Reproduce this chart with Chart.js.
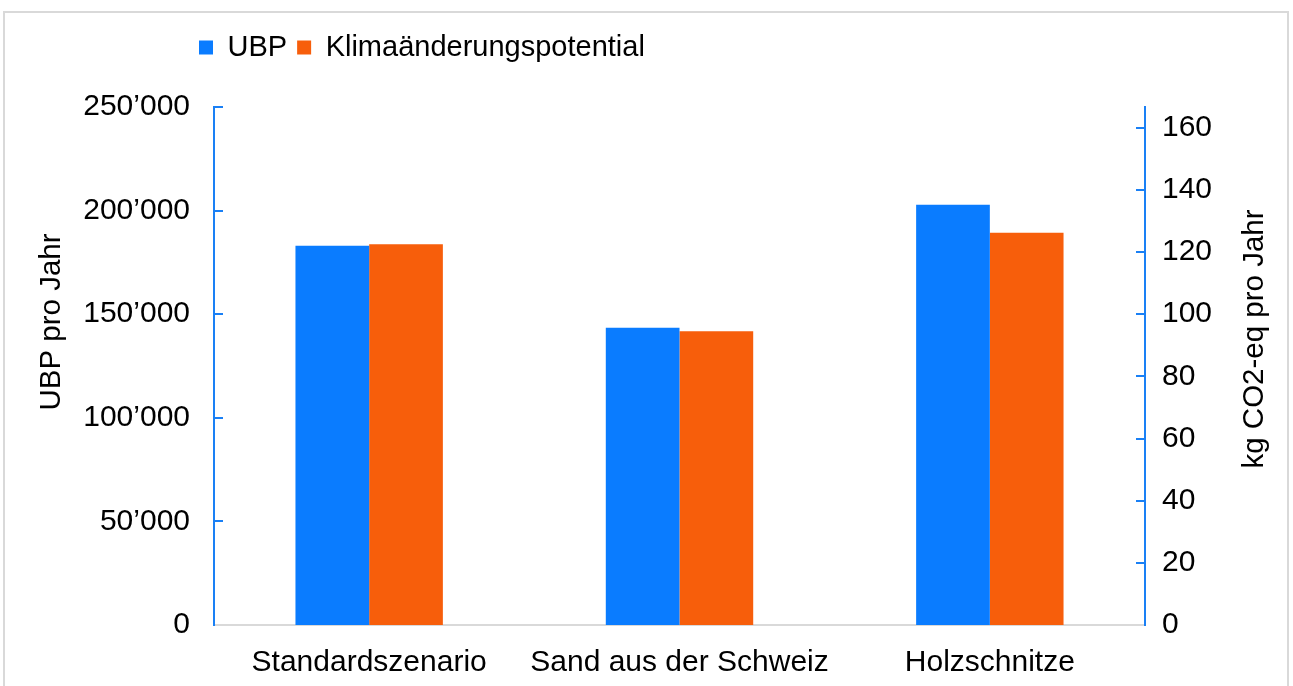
<!DOCTYPE html>
<html><head><meta charset="utf-8">
<script src="https://cdn.jsdelivr.net/npm/chart.js@4/dist/chart.umd.min.js"></script>
<style>
html,body{margin:0;padding:0;background:#fff;overflow:hidden;}
#frame{position:absolute;left:3px;top:11px;width:1286px;height:700px;border:2px solid #d9d9d9;box-sizing:border-box;}
#wrap{position:absolute;left:0;top:0;width:1293px;height:686px;}
</style></head><body>
<div id="frame"></div>
<div id="wrap"><canvas id="c" width="1293" height="686"></canvas></div>
<script>
const categories = ['Standardszenario', 'Sand aus der Schweiz', 'Holzschnitze'];
const ubpValues = [183000, 143500, 202800];
const klimaValues = [122.5, 94.5, 126.2];
const seriesNames = ['UBP', 'Klimaänderungspotential'];
const leftAxisTitle = 'UBP pro Jahr';
const rightAxisTitle = 'kg CO2-eq pro Jahr';
const leftMax = 250000, leftStep = 50000;
const rightMax = 250000 / 1500, rightStep = 20;

const blue = '#0a7cff';
const orange = '#f75e0b';
const axisBlue = '#1a80f5';
const FONT = 'Liberation Sans, Arial, sans-serif';
const TICK_SIZE = 30, LEGEND_SIZE = 29, TITLE_SIZE = 29.5;

Chart.defaults.font.family = FONT;
Chart.defaults.font.size = TICK_SIZE;
Chart.defaults.color = '#000';

function fmt(v) {
  return String(Math.round(v)).replace(/\B(?=(\d{3})+(?!\d))/g, '\u2019');
}

function patchTitle(scale, dy, flip) {
  if (!scale || scale._titlePatched) return;
  const orig = scale.drawTitle;
  scale.drawTitle = function () {
    const ctx = this.ctx;
    const lh = TITLE_SIZE * 1.2;
    const cx = this.position === 'left' ? this.left + lh / 2 : this.right - lh / 2;
    const cy = (this.top + this.bottom) / 2;
    ctx.save();
    ctx.translate(0, dy);
    if (flip) { ctx.translate(cx, cy); ctx.rotate(Math.PI); ctx.translate(-cx, -cy); }
    orig.call(this);
    ctx.restore();
  };
  scale._titlePatched = true;
}

const frameTweaks = {
  id: 'frameTweaks',
  beforeLayout(chart) {
    const lg = chart.legend;
    if (lg && !lg._spacerPatched) {
      const orig = lg.fit;
      lg.fit = function () { orig.call(this); this.height += 35; };
      lg._spacerPatched = true;
    }
  },
  afterLayout(chart) {
    if (chart.legend) chart.legend.left = 189;
    patchTitle(chart.scales.y, -44, false);
    patchTitle(chart.scales.y1, -27, true);
  },
  afterDraw(chart) {
    const ctx = chart.ctx;
    const ca = chart.chartArea;
    ctx.save();
    ctx.strokeStyle = axisBlue;
    ctx.lineWidth = 2;
    ['y', 'y1'].forEach(id => {
      const s = chart.scales[id];
      const x0 = id === 'y' ? ca.left : ca.right;
      const dir = id === 'y' ? 1 : -1;
      s.ticks.forEach(t => {
        if (t.value === 0) return;
        const py = Math.round(s.getPixelForValue(t.value));
        ctx.beginPath();
        ctx.moveTo(x0, py);
        ctx.lineTo(x0 + dir * 9, py);
        ctx.stroke();
      });
    });
    ctx.restore();
  }
};

new Chart(document.getElementById('c'), {
  type: 'bar',
  data: {
    labels: categories,
    datasets: [
      { label: seriesNames[0], data: ubpValues, backgroundColor: blue, yAxisID: 'y',
        categoryPercentage: 0.475, barPercentage: 1.0 },
      { label: seriesNames[1], data: klimaValues, backgroundColor: orange, yAxisID: 'y1',
        categoryPercentage: 0.475, barPercentage: 1.0 }
    ]
  },
  options: {
    responsive: false,
    animation: false,
    layout: { padding: { top: 23, left: 34, right: 20, bottom: 0 } },
    plugins: {
      legend: {
        position: 'top',
        align: 'start',
        labels: { boxWidth: 14, boxHeight: 14, padding: 10, font: { size: LEGEND_SIZE }, color: '#000' }
      },
      tooltip: { enabled: false }
    },
    scales: {
      x: {
        grid: { display: false, drawTicks: false },
        border: { display: true, color: '#d9d9d9', width: 2 },
        ticks: { padding: 20, font: { size: TICK_SIZE }, color: '#000', maxRotation: 0 },
        afterFit(s) { s.height = 61; }
      },
      y: {
        position: 'left',
        min: 0, max: leftMax,
        grid: { display: false, drawTicks: false },
        border: { display: true, color: axisBlue, width: 2 },
        ticks: { stepSize: leftStep, padding: 24, font: { size: TICK_SIZE }, color: '#000', callback: v => fmt(v) },
        title: { display: true, text: leftAxisTitle, font: { size: TITLE_SIZE }, color: '#000', padding: 0 },
        afterFit(s) { s.width = 180; }
      },
      y1: {
        position: 'right',
        min: 0, max: rightMax,
        grid: { display: false, drawTicks: false },
        border: { display: true, color: axisBlue, width: 2 },
        ticks: { stepSize: rightStep, includeBounds: false, padding: 17, font: { size: TICK_SIZE }, color: '#000', callback: v => fmt(v) },
        title: { display: true, text: rightAxisTitle, font: { size: TITLE_SIZE }, color: '#000', padding: 0 },
        afterFit(s) { s.width = 128; }
      }
    }
  },
  plugins: [frameTweaks]
});
</script>
</body></html>
